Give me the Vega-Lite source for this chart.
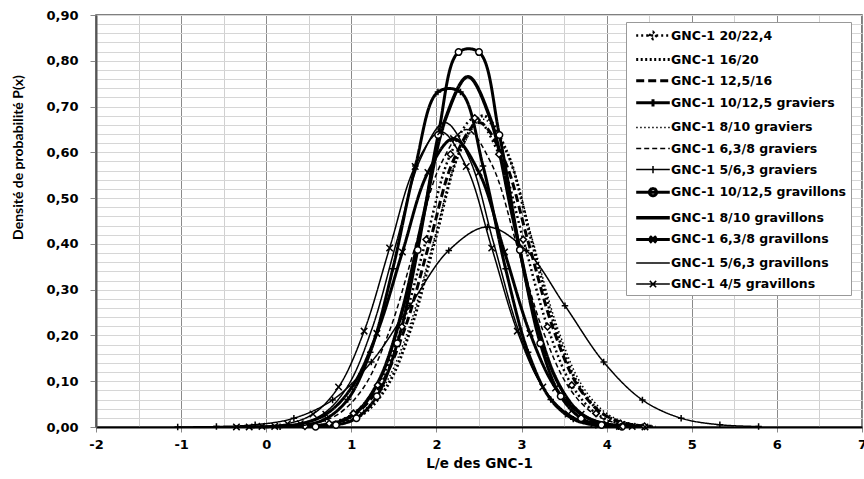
{
  "$schema": "https://vega.github.io/schema/vega-lite/v6.json",
  "width": 766,
  "height": 412,
  "autosize": {"type": "none"},
  "padding": {"left": 96, "top": 15, "right": 2, "bottom": 52},
  "background": "white",
  "config": {"view": {"stroke": "#555", "strokeWidth": 1.5}},
  "data": {"values": [
    {"s":"GNC-1 20/22,4","x":0.455,"y":0.0015},{"s":"GNC-1 20/22,4","x":0.74,"y":0.0075},{"s":"GNC-1 20/22,4","x":1.025,"y":0.0297},{"s":"GNC-1 20/22,4","x":1.31,"y":0.0914},{"s":"GNC-1 20/22,4","x":1.595,"y":0.2191},{"s":"GNC-1 20/22,4","x":1.88,"y":0.4094},{"s":"GNC-1 20/22,4","x":2.165,"y":0.5957},{"s":"GNC-1 20/22,4","x":2.45,"y":0.675},{"s":"GNC-1 20/22,4","x":2.735,"y":0.5957},{"s":"GNC-1 20/22,4","x":3.02,"y":0.4094},{"s":"GNC-1 20/22,4","x":3.305,"y":0.2191},{"s":"GNC-1 20/22,4","x":3.59,"y":0.0914},{"s":"GNC-1 20/22,4","x":3.875,"y":0.0297},{"s":"GNC-1 20/22,4","x":4.16,"y":0.0075},{"s":"GNC-1 20/22,4","x":4.445,"y":0.0015},
    {"s":"GNC-1 16/20","x":0.59,"y":0.0015},{"s":"GNC-1 16/20","x":0.87,"y":0.0076},{"s":"GNC-1 16/20","x":1.15,"y":0.0299},{"s":"GNC-1 16/20","x":1.43,"y":0.092},{"s":"GNC-1 16/20","x":1.71,"y":0.2208},{"s":"GNC-1 16/20","x":1.99,"y":0.4124},{"s":"GNC-1 16/20","x":2.27,"y":0.6001},{"s":"GNC-1 16/20","x":2.55,"y":0.68},{"s":"GNC-1 16/20","x":2.83,"y":0.6001},{"s":"GNC-1 16/20","x":3.11,"y":0.4124},{"s":"GNC-1 16/20","x":3.39,"y":0.2208},{"s":"GNC-1 16/20","x":3.67,"y":0.092},{"s":"GNC-1 16/20","x":3.95,"y":0.0299},{"s":"GNC-1 16/20","x":4.23,"y":0.0076},{"s":"GNC-1 16/20","x":4.51,"y":0.0015},
    {"s":"GNC-1 12,5/16","x":0.47,"y":0.0015},{"s":"GNC-1 12,5/16","x":0.76,"y":0.0074},{"s":"GNC-1 12,5/16","x":1.05,"y":0.0292},{"s":"GNC-1 12,5/16","x":1.34,"y":0.09},{"s":"GNC-1 12,5/16","x":1.63,"y":0.2159},{"s":"GNC-1 12,5/16","x":1.92,"y":0.4033},{"s":"GNC-1 12,5/16","x":2.21,"y":0.5869},{"s":"GNC-1 12,5/16","x":2.5,"y":0.665},{"s":"GNC-1 12,5/16","x":2.79,"y":0.5869},{"s":"GNC-1 12,5/16","x":3.08,"y":0.4033},{"s":"GNC-1 12,5/16","x":3.37,"y":0.2159},{"s":"GNC-1 12,5/16","x":3.66,"y":0.09},{"s":"GNC-1 12,5/16","x":3.95,"y":0.0292},{"s":"GNC-1 12,5/16","x":4.24,"y":0.0074},{"s":"GNC-1 12,5/16","x":4.53,"y":0.0015},
    {"s":"GNC-1 10/12,5 graviers","x":0.1625,"y":0.0007},{"s":"GNC-1 10/12,5 graviers","x":0.4275,"y":0.0038},{"s":"GNC-1 10/12,5 graviers","x":0.6925,"y":0.0172},{"s":"GNC-1 10/12,5 graviers","x":0.9575,"y":0.0601},{"s":"GNC-1 10/12,5 graviers","x":1.2225,"y":0.1633},{"s":"GNC-1 10/12,5 graviers","x":1.4875,"y":0.3457},{"s":"GNC-1 10/12,5 graviers","x":1.7525,"y":0.5699},{"s":"GNC-1 10/12,5 graviers","x":2.0175,"y":0.7318},{"s":"GNC-1 10/12,5 graviers","x":2.2825,"y":0.7318},{"s":"GNC-1 10/12,5 graviers","x":2.5475,"y":0.5699},{"s":"GNC-1 10/12,5 graviers","x":2.8125,"y":0.3457},{"s":"GNC-1 10/12,5 graviers","x":3.0775,"y":0.1633},{"s":"GNC-1 10/12,5 graviers","x":3.3425,"y":0.0601},{"s":"GNC-1 10/12,5 graviers","x":3.6075,"y":0.0172},{"s":"GNC-1 10/12,5 graviers","x":3.8725,"y":0.0038},{"s":"GNC-1 10/12,5 graviers","x":4.1375,"y":0.0007},
    {"s":"GNC-1 8/10 graviers","x":0.52,"y":0.0015},{"s":"GNC-1 8/10 graviers","x":0.81,"y":0.0075},{"s":"GNC-1 8/10 graviers","x":1.1,"y":0.0295},{"s":"GNC-1 8/10 graviers","x":1.39,"y":0.0909},{"s":"GNC-1 8/10 graviers","x":1.68,"y":0.2182},{"s":"GNC-1 8/10 graviers","x":1.97,"y":0.4076},{"s":"GNC-1 8/10 graviers","x":2.26,"y":0.593},{"s":"GNC-1 8/10 graviers","x":2.55,"y":0.672},{"s":"GNC-1 8/10 graviers","x":2.84,"y":0.593},{"s":"GNC-1 8/10 graviers","x":3.13,"y":0.4076},{"s":"GNC-1 8/10 graviers","x":3.42,"y":0.2182},{"s":"GNC-1 8/10 graviers","x":3.71,"y":0.0909},{"s":"GNC-1 8/10 graviers","x":4.0,"y":0.0295},{"s":"GNC-1 8/10 graviers","x":4.29,"y":0.0075},{"s":"GNC-1 8/10 graviers","x":4.58,"y":0.0015},
    {"s":"GNC-1 6,3/8 graviers","x":0.25,"y":0.0014},{"s":"GNC-1 6,3/8 graviers","x":0.55,"y":0.0072},{"s":"GNC-1 6,3/8 graviers","x":0.85,"y":0.0286},{"s":"GNC-1 6,3/8 graviers","x":1.15,"y":0.088},{"s":"GNC-1 6,3/8 graviers","x":1.45,"y":0.211},{"s":"GNC-1 6,3/8 graviers","x":1.75,"y":0.3942},{"s":"GNC-1 6,3/8 graviers","x":2.05,"y":0.5736},{"s":"GNC-1 6,3/8 graviers","x":2.35,"y":0.65},{"s":"GNC-1 6,3/8 graviers","x":2.65,"y":0.5736},{"s":"GNC-1 6,3/8 graviers","x":2.95,"y":0.3942},{"s":"GNC-1 6,3/8 graviers","x":3.25,"y":0.211},{"s":"GNC-1 6,3/8 graviers","x":3.55,"y":0.088},{"s":"GNC-1 6,3/8 graviers","x":3.85,"y":0.0286},{"s":"GNC-1 6,3/8 graviers","x":4.15,"y":0.0072},{"s":"GNC-1 6,3/8 graviers","x":4.45,"y":0.0014},
    {"s":"GNC-1 5/6,3 graviers","x":-1.04,"y":0.0001},{"s":"GNC-1 5/6,3 graviers","x":-0.585,"y":0.001},{"s":"GNC-1 5/6,3 graviers","x":-0.13,"y":0.0049},{"s":"GNC-1 5/6,3 graviers","x":0.325,"y":0.0192},{"s":"GNC-1 5/6,3 graviers","x":0.78,"y":0.0591},{"s":"GNC-1 5/6,3 graviers","x":1.235,"y":0.1419},{"s":"GNC-1 5/6,3 graviers","x":1.69,"y":0.2651},{"s":"GNC-1 5/6,3 graviers","x":2.145,"y":0.3857},{"s":"GNC-1 5/6,3 graviers","x":2.6,"y":0.437},{"s":"GNC-1 5/6,3 graviers","x":3.055,"y":0.3857},{"s":"GNC-1 5/6,3 graviers","x":3.51,"y":0.2651},{"s":"GNC-1 5/6,3 graviers","x":3.965,"y":0.1419},{"s":"GNC-1 5/6,3 graviers","x":4.42,"y":0.0591},{"s":"GNC-1 5/6,3 graviers","x":4.875,"y":0.0192},{"s":"GNC-1 5/6,3 graviers","x":5.33,"y":0.0049},{"s":"GNC-1 5/6,3 graviers","x":5.785,"y":0.001},
    {"s":"GNC-1 10/12,5 gravillons","x":0.58,"y":0.0007},{"s":"GNC-1 10/12,5 gravillons","x":0.82,"y":0.0043},{"s":"GNC-1 10/12,5 gravillons","x":1.06,"y":0.0193},{"s":"GNC-1 10/12,5 gravillons","x":1.3,"y":0.0672},{"s":"GNC-1 10/12,5 gravillons","x":1.54,"y":0.1827},{"s":"GNC-1 10/12,5 gravillons","x":1.78,"y":0.3869},{"s":"GNC-1 10/12,5 gravillons","x":2.02,"y":0.6378},{"s":"GNC-1 10/12,5 gravillons","x":2.26,"y":0.819},{"s":"GNC-1 10/12,5 gravillons","x":2.5,"y":0.819},{"s":"GNC-1 10/12,5 gravillons","x":2.74,"y":0.6378},{"s":"GNC-1 10/12,5 gravillons","x":2.98,"y":0.3869},{"s":"GNC-1 10/12,5 gravillons","x":3.22,"y":0.1827},{"s":"GNC-1 10/12,5 gravillons","x":3.46,"y":0.0672},{"s":"GNC-1 10/12,5 gravillons","x":3.7,"y":0.0193},{"s":"GNC-1 10/12,5 gravillons","x":3.94,"y":0.0043},{"s":"GNC-1 10/12,5 gravillons","x":4.18,"y":0.0007},
    {"s":"GNC-1 8/10 gravillons","x":0.55,"y":0.0017},{"s":"GNC-1 8/10 gravillons","x":0.81,"y":0.0085},{"s":"GNC-1 8/10 gravillons","x":1.07,"y":0.0336},{"s":"GNC-1 8/10 gravillons","x":1.33,"y":0.1035},{"s":"GNC-1 8/10 gravillons","x":1.59,"y":0.2484},{"s":"GNC-1 8/10 gravillons","x":1.85,"y":0.464},{"s":"GNC-1 8/10 gravillons","x":2.11,"y":0.6751},{"s":"GNC-1 8/10 gravillons","x":2.37,"y":0.765},{"s":"GNC-1 8/10 gravillons","x":2.63,"y":0.6751},{"s":"GNC-1 8/10 gravillons","x":2.89,"y":0.464},{"s":"GNC-1 8/10 gravillons","x":3.15,"y":0.2484},{"s":"GNC-1 8/10 gravillons","x":3.41,"y":0.1035},{"s":"GNC-1 8/10 gravillons","x":3.67,"y":0.0336},{"s":"GNC-1 8/10 gravillons","x":3.93,"y":0.0085},{"s":"GNC-1 8/10 gravillons","x":4.19,"y":0.0017},
    {"s":"GNC-1 6,3/8 gravillons","x":-0.2,"y":0.0002},{"s":"GNC-1 6,3/8 gravillons","x":0.1,"y":0.0014},{"s":"GNC-1 6,3/8 gravillons","x":0.4,"y":0.007},{"s":"GNC-1 6,3/8 gravillons","x":0.7,"y":0.0277},{"s":"GNC-1 6,3/8 gravillons","x":1.0,"y":0.0853},{"s":"GNC-1 6,3/8 gravillons","x":1.3,"y":0.2045},{"s":"GNC-1 6,3/8 gravillons","x":1.6,"y":0.3821},{"s":"GNC-1 6,3/8 gravillons","x":1.9,"y":0.556},{"s":"GNC-1 6,3/8 gravillons","x":2.2,"y":0.63},{"s":"GNC-1 6,3/8 gravillons","x":2.5,"y":0.556},{"s":"GNC-1 6,3/8 gravillons","x":2.8,"y":0.3821},{"s":"GNC-1 6,3/8 gravillons","x":3.1,"y":0.2045},{"s":"GNC-1 6,3/8 gravillons","x":3.4,"y":0.0853},{"s":"GNC-1 6,3/8 gravillons","x":3.7,"y":0.0277},{"s":"GNC-1 6,3/8 gravillons","x":4.0,"y":0.007},{"s":"GNC-1 6,3/8 gravillons","x":4.3,"y":0.0014},
    {"s":"GNC-1 5/6,3 gravillons","x":0.105,"y":0.0015},{"s":"GNC-1 5/6,3 gravillons","x":0.39,"y":0.0074},{"s":"GNC-1 5/6,3 gravillons","x":0.675,"y":0.0292},{"s":"GNC-1 5/6,3 gravillons","x":0.96,"y":0.09},{"s":"GNC-1 5/6,3 gravillons","x":1.245,"y":0.2159},{"s":"GNC-1 5/6,3 gravillons","x":1.53,"y":0.4033},{"s":"GNC-1 5/6,3 gravillons","x":1.815,"y":0.5869},{"s":"GNC-1 5/6,3 gravillons","x":2.1,"y":0.665},{"s":"GNC-1 5/6,3 gravillons","x":2.385,"y":0.5869},{"s":"GNC-1 5/6,3 gravillons","x":2.67,"y":0.4033},{"s":"GNC-1 5/6,3 gravillons","x":2.955,"y":0.2159},{"s":"GNC-1 5/6,3 gravillons","x":3.24,"y":0.09},{"s":"GNC-1 5/6,3 gravillons","x":3.525,"y":0.0292},{"s":"GNC-1 5/6,3 gravillons","x":3.81,"y":0.0074},{"s":"GNC-1 5/6,3 gravillons","x":4.095,"y":0.0015},
    {"s":"GNC-1 4/5 gravillons","x":-0.35,"y":0.0002},{"s":"GNC-1 4/5 gravillons","x":-0.05,"y":0.0014},{"s":"GNC-1 4/5 gravillons","x":0.25,"y":0.0072},{"s":"GNC-1 4/5 gravillons","x":0.55,"y":0.0283},{"s":"GNC-1 4/5 gravillons","x":0.85,"y":0.0873},{"s":"GNC-1 4/5 gravillons","x":1.15,"y":0.2094},{"s":"GNC-1 4/5 gravillons","x":1.45,"y":0.3912},{"s":"GNC-1 4/5 gravillons","x":1.75,"y":0.5692},{"s":"GNC-1 4/5 gravillons","x":2.05,"y":0.645},{"s":"GNC-1 4/5 gravillons","x":2.35,"y":0.5692},{"s":"GNC-1 4/5 gravillons","x":2.65,"y":0.3912},{"s":"GNC-1 4/5 gravillons","x":2.95,"y":0.2094},{"s":"GNC-1 4/5 gravillons","x":3.25,"y":0.0873},{"s":"GNC-1 4/5 gravillons","x":3.55,"y":0.0283},{"s":"GNC-1 4/5 gravillons","x":3.85,"y":0.0072},{"s":"GNC-1 4/5 gravillons","x":4.15,"y":0.0014},{"s":"GNC-1 4/5 gravillons","x":4.45,"y":0.0002}
  ]},
  "encoding": {
    "x": {"field": "x", "type": "quantitative", "scale": {"domain": [-2, 7], "nice": false, "zero": false},
      "axis": {
        "values": [-2,-1.5,-1,-0.5,0,0.5,1,1.5,2,2.5,3,3.5,4,4.5,5,5.5,6,6.5,7],
        "labelExpr": "datum.value % 1 === 0 ? '' + datum.value : ''",
        "title": "L/e des GNC-1", "titleFont": "DejaVu Sans", "titleFontWeight": "bold", "titleFontSize": 13.5, "titleColor": "black", "titlePadding": 5,
        "labelFont": "DejaVu Sans", "labelFontWeight": "bold", "labelFontSize": 13, "labelColor": "black", "labelPadding": 6,
        "labelFlush": false, "labelOverlap": false,
        "tickSize": 5, "tickColor": "#888", "tickOpacity": {"condition": {"test": "datum.value % 1 === 0", "value": 1}, "value": 0},
        "domainColor": "black", "domainWidth": 2,
        "grid": true, "gridWidth": 1, "gridOpacity": 1,
        "gridColor": {"condition": {"test": "datum.value % 1 === 0", "value": "#8a8a8a"}, "value": "#d0d0d0"}
      }},
    "y": {"field": "y", "type": "quantitative", "scale": {"domain": [0, 0.9], "nice": false},
      "axis": {
        "values": [0,0.02,0.04,0.06,0.08,0.1,0.12,0.14,0.16,0.18,0.2,0.22,0.24,0.26,0.28,0.3,0.32,0.34,0.36,0.38,0.4,0.42,0.44,0.46,0.48,0.5,0.52,0.54,0.56,0.58,0.6,0.62,0.64,0.66,0.68,0.7,0.72,0.74,0.76,0.78,0.8,0.82,0.84,0.86,0.88,0.9],
        "labelExpr": "abs(datum.value*10 - round(datum.value*10)) < 0.001 ? replace(format(datum.value, '.2f'), '.', ',') : ''",
        "title": "Densité de probabilité P(x)", "titleFont": "Lato", "titleFontWeight": "bold", "titleFontSize": 14, "titleColor": "black",
        "titleX": -78, "titleY": 142, "titleAngle": 270, "titleAlign": "center", "titleBaseline": "middle",
        "labelFont": "DejaVu Sans", "labelFontWeight": "bold", "labelFontSize": 13, "labelColor": "black", "labelPadding": 12,
        "labelOverlap": false,
        "tickSize": 6, "tickColor": "#888", "tickOpacity": {"condition": {"test": "abs(datum.value*10 - round(datum.value*10)) < 0.001", "value": 1}, "value": 0},
        "domainColor": "#555", "domainWidth": 2,
        "grid": true, "gridWidth": 1, "gridColor": "#d6d6d6", "gridOpacity": 1
      }}
  },
  "layer": [
    {
      "mark": {"type": "line", "interpolate": "catmull-rom", "color": "black", "strokeCap": "butt"},
      "encoding": {
        "strokeDash": {"field": "s", "type": "nominal",
          "scale": {"domain": ["GNC-1 20/22,4","GNC-1 16/20","GNC-1 12,5/16","GNC-1 10/12,5 graviers","GNC-1 8/10 graviers","GNC-1 6,3/8 graviers","GNC-1 5/6,3 graviers","GNC-1 10/12,5 gravillons","GNC-1 8/10 gravillons","GNC-1 6,3/8 gravillons","GNC-1 5/6,3 gravillons","GNC-1 4/5 gravillons"],
            "range": [[2,3],[2,2.5],[8,4],[1,0],[1.5,2.5],[5,3],[1,0],[1,0],[1,0],[1,0],[1,0],[1,0]]},
          "legend": {
            "title": null, "orient": "none", "legendX": 530, "legendY": 7,
            "padding": 4, "fillColor": "white", "strokeColor": "#999",
            "labelFont": "DejaVu Sans", "labelFontWeight": "bold", "labelFontSize": 12.5, "labelColor": "black", "labelLimit": 300,
            "symbolSize": 256, "symbolOffset": 13, "labelOffset": 8, "rowPadding": 5.1,
            "symbolStrokeColor": "black", "symbolStrokeWidth": 1.5, "symbolFillColor": "transparent",
            "encode": {"symbols": {"update": {
              "stroke": {"value": "black"},
              "fill": {"value": "transparent"},
              "shape": {"signal": "['M-2.1,0L2.1,0M-0.45,0L0,-0.45L0.45,0L0,0.45Z','M-2.1,0L2.1,0','M-2.1,0L2.1,0','M-2.1,0L2.1,0M0,-0.45L0,0.45','M-2.1,0L2.1,0','M-2.1,0L2.1,0','M-2.1,0L2.1,0M0,-0.45L0,0.45','M-2.1,0L2.1,0M0.45,0A0.45,0.45,0,1,1,-0.45,0A0.45,0.45,0,1,1,0.45,0','M-2.1,0L2.1,0','M-2.1,0L2.1,0M-0.4,-0.4L0.4,0.4M-0.4,0.4L0.4,-0.4','M-2.1,0L2.1,0','M-2.1,0L2.1,0M-0.4,-0.4L0.4,0.4M-0.4,0.4L0.4,-0.4'][indexof(['GNC-1 20/22,4','GNC-1 16/20','GNC-1 12,5/16','GNC-1 10/12,5 graviers','GNC-1 8/10 graviers','GNC-1 6,3/8 graviers','GNC-1 5/6,3 graviers','GNC-1 10/12,5 gravillons','GNC-1 8/10 gravillons','GNC-1 6,3/8 gravillons','GNC-1 5/6,3 gravillons','GNC-1 4/5 gravillons'], datum.value)]"},
              "strokeWidth": {"signal": "[2.5,3,3,3,1.5,1.5,1.5,3,3.5,3,1.5,1.5][indexof(['GNC-1 20/22,4','GNC-1 16/20','GNC-1 12,5/16','GNC-1 10/12,5 graviers','GNC-1 8/10 graviers','GNC-1 6,3/8 graviers','GNC-1 5/6,3 graviers','GNC-1 10/12,5 gravillons','GNC-1 8/10 gravillons','GNC-1 6,3/8 gravillons','GNC-1 5/6,3 gravillons','GNC-1 4/5 gravillons'], datum.value)]"}
            }}}
          }},
        "strokeWidth": {"field": "s", "type": "nominal",
          "scale": {"type": "ordinal", "domain": ["GNC-1 20/22,4","GNC-1 16/20","GNC-1 12,5/16","GNC-1 10/12,5 graviers","GNC-1 8/10 graviers","GNC-1 6,3/8 graviers","GNC-1 5/6,3 graviers","GNC-1 10/12,5 gravillons","GNC-1 8/10 gravillons","GNC-1 6,3/8 gravillons","GNC-1 5/6,3 gravillons","GNC-1 4/5 gravillons"],
            "range": [2.5,3,3,3,1.5,1.5,1.5,3,3.5,3,1.5,1.5]},
          "legend": null}
      }
    },
    {
      "transform": [{"filter": {"field": "s", "oneOf": ["GNC-1 20/22,4","GNC-1 10/12,5 graviers","GNC-1 5/6,3 graviers","GNC-1 10/12,5 gravillons","GNC-1 6,3/8 gravillons","GNC-1 4/5 gravillons"]}}],
      "mark": {"type": "point", "filled": true, "fill": "white", "stroke": "black", "strokeWidth": 1.5, "opacity": 1, "size": 42},
      "encoding": {
        "shape": {"field": "s", "type": "nominal",
          "scale": {"domain": ["GNC-1 20/22,4","GNC-1 10/12,5 graviers","GNC-1 5/6,3 graviers","GNC-1 10/12,5 gravillons","GNC-1 6,3/8 gravillons","GNC-1 4/5 gravillons"],
            "range": ["diamond","M-1,0L1,0M0,-1L0,1","M-1,0L1,0M0,-1L0,1","circle","M-1,-1L1,1M-1,1L1,-1","M-1,-1L1,1M-1,1L1,-1"]},
          "legend": null}
      }
    }
  ]
}
